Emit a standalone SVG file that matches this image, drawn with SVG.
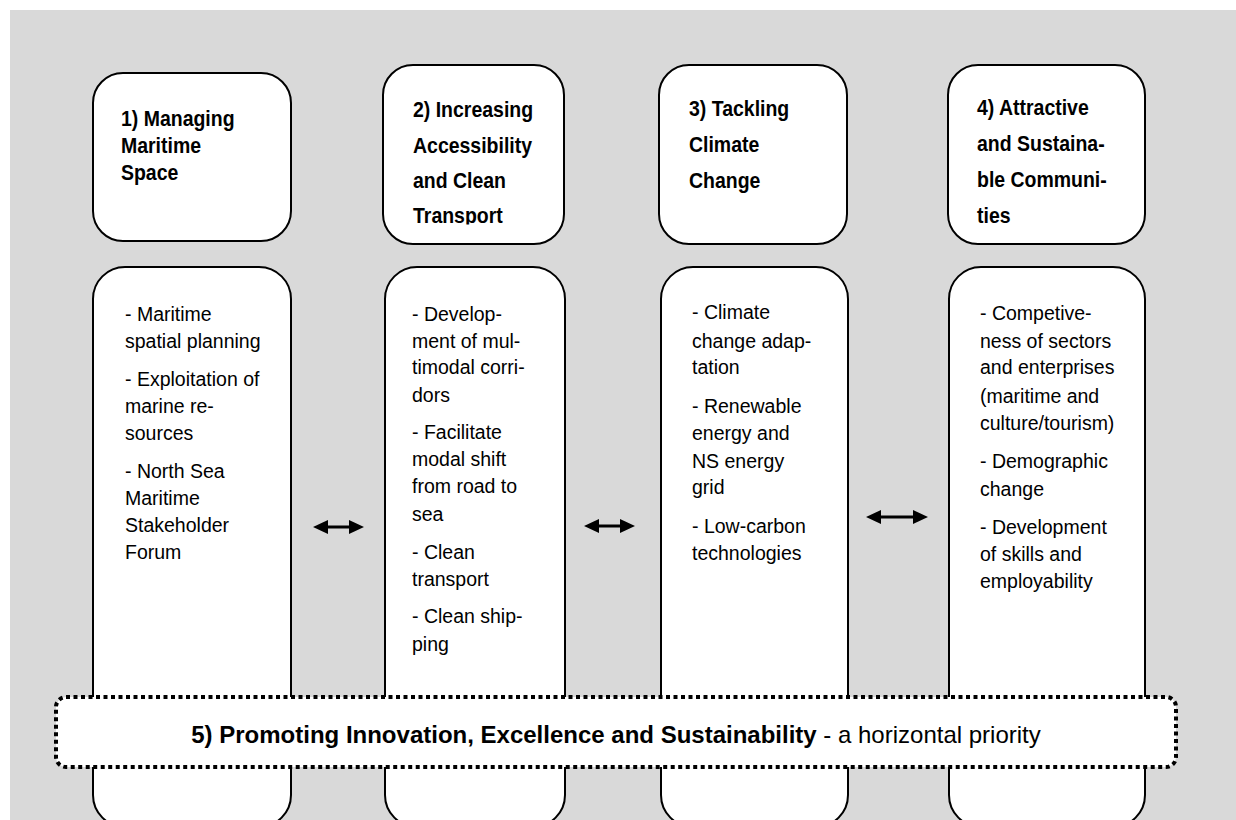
<svg xmlns="http://www.w3.org/2000/svg" width="1236" height="820" viewBox="0 0 1236 820">
  <defs>
    <style>
      .box { fill: #ffffff; stroke: #000000; stroke-width: 2; }
      .title { font-family: "Liberation Sans", Arial, sans-serif; font-weight: bold; font-size: 22px; fill: #000000; }
      .body { font-family: "Liberation Sans", Arial, sans-serif; font-size: 19.5px; fill: #000000; }
      .arrow { stroke: #000000; stroke-width: 3; fill: none; }
      .head { fill: #000000; }
      .dotted { fill: #ffffff; stroke: #000000; stroke-width: 4; stroke-dasharray: 4 3.5; }
      .bottom { font-family: "Liberation Sans", Arial, sans-serif; font-size: 24px; fill: #000000; }
    </style>
    <clipPath id="clip2">
      <rect x="383" y="65" width="181" height="159.5"/>
    </clipPath>
  </defs>

  <rect x="10" y="10" width="1226" height="810" fill="#d9d9d9"/>

  <g id="body1">
    <rect class="box" x="93" y="267" width="198" height="560" rx="32" ry="32"/>
    <text class="body">
      <tspan x="125" y="321">- Maritime</tspan>
      <tspan x="125" y="348">spatial planning</tspan>
      <tspan x="125" y="386">- Exploitation of</tspan>
      <tspan x="125" y="413">marine re-</tspan>
      <tspan x="125" y="440">sources</tspan>
      <tspan x="125" y="478">- North Sea</tspan>
      <tspan x="125" y="505">Maritime</tspan>
      <tspan x="125" y="532">Stakeholder</tspan>
      <tspan x="125" y="559">Forum</tspan>
    </text>
  </g>

  <g id="body2">
    <rect class="box" x="385" y="267" width="180" height="560" rx="32" ry="32"/>
    <text class="body">
      <tspan x="412" y="321">- Develop-</tspan>
      <tspan x="412" y="348">ment of mul-</tspan>
      <tspan x="412" y="374">timodal corri-</tspan>
      <tspan x="412" y="402">dors</tspan>
      <tspan x="412" y="439">- Facilitate</tspan>
      <tspan x="412" y="466">modal shift</tspan>
      <tspan x="412" y="493">from road to</tspan>
      <tspan x="412" y="521">sea</tspan>
      <tspan x="412" y="559">- Clean</tspan>
      <tspan x="412" y="586">transport</tspan>
      <tspan x="412" y="623">- Clean ship-</tspan>
      <tspan x="412" y="651">ping</tspan>
    </text>
  </g>

  <g id="body3">
    <rect class="box" x="661" y="267" width="187" height="560" rx="32" ry="32"/>
    <text class="body">
      <tspan x="692" y="319">- Climate</tspan>
      <tspan x="692" y="348">change adap-</tspan>
      <tspan x="692" y="374">tation</tspan>
      <tspan x="692" y="413">- Renewable</tspan>
      <tspan x="692" y="440">energy and</tspan>
      <tspan x="692" y="468">NS energy</tspan>
      <tspan x="692" y="494">grid</tspan>
      <tspan x="692" y="533">- Low-carbon</tspan>
      <tspan x="692" y="560">technologies</tspan>
    </text>
  </g>

  <g id="body4">
    <rect class="box" x="949" y="267" width="196" height="560" rx="32" ry="32"/>
    <text class="body">
      <tspan x="980" y="320">- Competive-</tspan>
      <tspan x="980" y="348">ness of sectors</tspan>
      <tspan x="980" y="374">and enterprises</tspan>
      <tspan x="980" y="403">(maritime and</tspan>
      <tspan x="980" y="430">culture/tourism)</tspan>
      <tspan x="980" y="468">- Demographic</tspan>
      <tspan x="980" y="496">change</tspan>
      <tspan x="980" y="534">- Development</tspan>
      <tspan x="980" y="561">of skills and</tspan>
      <tspan x="980" y="588">employability</tspan>
    </text>
  </g>

  <g id="head1">
    <rect class="box" x="93" y="73" width="198" height="168" rx="30" ry="30"/>
    <g transform="translate(121,0) scale(0.885,1)">
      <text class="title">
        <tspan x="0" y="126">1) Managing</tspan>
        <tspan x="0" y="153">Maritime</tspan>
        <tspan x="0" y="180">Space</tspan>
      </text>
    </g>
  </g>

  <g id="head2">
    <rect class="box" x="383" y="65" width="181" height="179" rx="30" ry="30"/>
    <g clip-path="url(#clip2)">
      <g transform="translate(413,0) scale(0.885,1)">
        <text class="title">
          <tspan x="0" y="117">2) Increasing</tspan>
          <tspan x="0" y="153">Accessibility</tspan>
          <tspan x="0" y="188">and Clean</tspan>
          <tspan x="0" y="223">Transport</tspan>
        </text>
      </g>
    </g>
  </g>

  <g id="head3">
    <rect class="box" x="659" y="65" width="188" height="179" rx="30" ry="30"/>
    <g transform="translate(689,0) scale(0.885,1)">
      <text class="title">
        <tspan x="0" y="116">3) Tackling</tspan>
        <tspan x="0" y="152">Climate</tspan>
        <tspan x="0" y="188">Change</tspan>
      </text>
    </g>
  </g>

  <g id="head4">
    <rect class="box" x="948" y="65" width="197" height="179" rx="30" ry="30"/>
    <g transform="translate(977,0) scale(0.885,1)">
      <text class="title">
        <tspan x="0" y="115">4) Attractive</tspan>
        <tspan x="0" y="151">and Sustaina-</tspan>
        <tspan x="0" y="187">ble Communi-</tspan>
        <tspan x="0" y="223">ties</tspan>
      </text>
    </g>
  </g>

  <g id="connectors">
    <line class="arrow" x1="322" y1="527" x2="356" y2="527"/>
    <polygon class="head" points="313,527 328,520 328,534"/>
    <polygon class="head" points="364,527 349,520 349,534"/>

    <line class="arrow" x1="592" y1="526" x2="627" y2="526"/>
    <polygon class="head" points="584,526 599,519 599,533"/>
    <polygon class="head" points="635,526 620,519 620,533"/>

    <line class="arrow" x1="874" y1="517" x2="920" y2="517"/>
    <polygon class="head" points="866,517 881,510 881,524"/>
    <polygon class="head" points="928,517 913,510 913,524"/>
  </g>

  <g id="priority5">
    <rect class="dotted" x="56" y="697" width="1120" height="70" rx="10" ry="10"/>
    <text class="bottom" x="616" y="743" text-anchor="middle"><tspan font-weight="bold">5) Promoting Innovation, Excellence and Sustainability</tspan> - a horizontal priority</text>
  </g>
</svg>
